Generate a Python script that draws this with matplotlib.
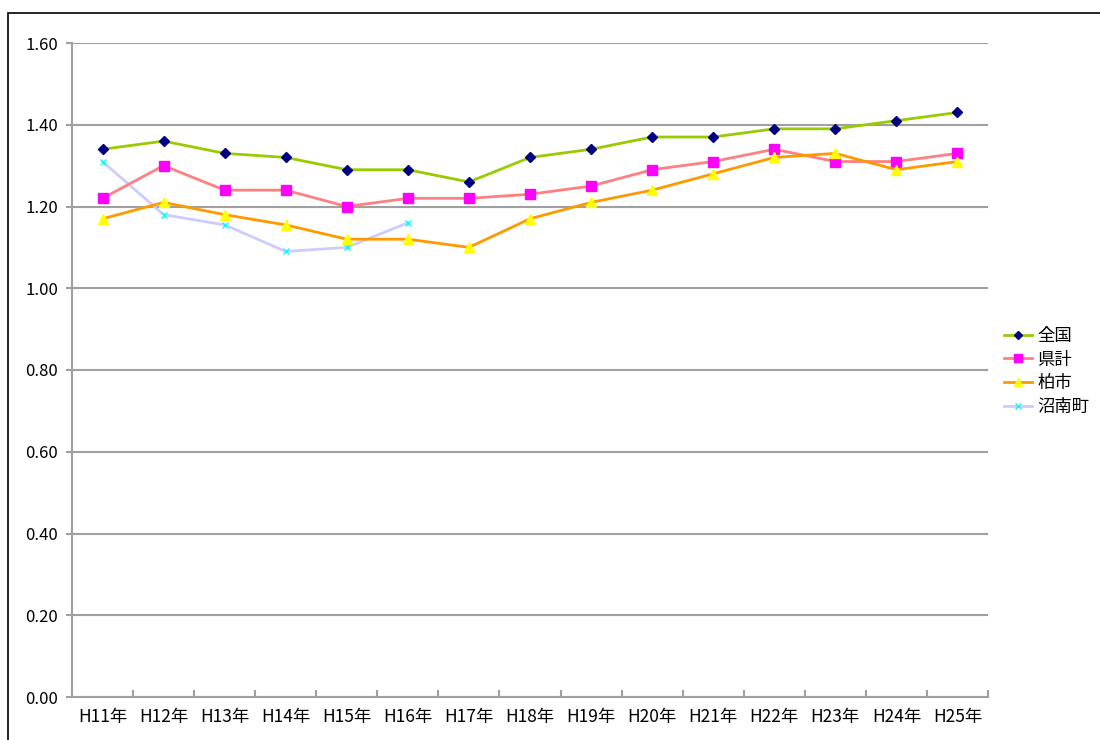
import matplotlib
matplotlib.use("Agg")
import matplotlib.pyplot as plt
from matplotlib.patches import Rectangle

plt.rcParams['font.family'] = ['Noto Sans CJK JP', 'DejaVu Sans']

categories = ["H11年", "H12年", "H13年", "H14年", "H15年", "H16年", "H17年", "H18年",
              "H19年", "H20年", "H21年", "H22年", "H23年", "H24年", "H25年"]
zenkoku = [1.34, 1.36, 1.33, 1.32, 1.29, 1.29, 1.26, 1.32, 1.34, 1.37, 1.37, 1.39, 1.39, 1.41, 1.43]
kenkei = [1.22, 1.30, 1.24, 1.24, 1.20, 1.22, 1.22, 1.23, 1.25, 1.29, 1.31, 1.34, 1.31, 1.31, 1.33]
kashiwa = [1.17, 1.21, 1.18, 1.155, 1.12, 1.12, 1.10, 1.17, 1.21, 1.24, 1.28, 1.32, 1.33, 1.29, 1.31]
shonan = [1.31, 1.18, 1.155, 1.09, 1.10, 1.16]
series_names = ["全国", "県計", "柏市", "沼南町"]
yticks = [0.0, 0.2, 0.4, 0.6, 0.8, 1.0, 1.2, 1.4, 1.6]

fig = plt.figure(figsize=(11, 7.4), dpi=100)
fig.patches.append(Rectangle((8/1100, -0.01), 1.1, (740-13)/740 + 0.01, transform=fig.transFigure,
                             fill=False, edgecolor='black', linewidth=1.2))

ax = fig.add_axes([72/1100, 43/740, (988-72)/1100, (697-43)/740])
x = [i + 0.5 for i in range(len(categories))]

ax.plot(x, zenkoku, color='#99CC00', lw=2, marker='D', ms=5, mfc='#000080', mec='#000080', label=series_names[0], zorder=4)
ax.plot(x, kenkei, color='#FF8080', lw=2, marker='s', ms=7, mfc='#FF00FF', mec='#FF00FF', label=series_names[1], zorder=3)
ax.plot(x, kashiwa, color='#FF9900', lw=2, marker='^', ms=7, mfc='#FFFF00', mec='#FFFF00', label=series_names[2], zorder=3)
ax.plot(x[:len(shonan)], shonan, color='#CCCCFF', lw=2, marker='x', ms=5, mec='#00FFFF', mew=1, label=series_names[3], zorder=2)

ax.set_xlim(0, len(categories))
ax.set_ylim(0, 1.6)
ax.set_yticks(yticks)
ax.set_yticklabels([f"{v:.2f}" for v in yticks], fontsize=12)
ax.yaxis.grid(True, color='#A0A0A0', lw=1.5)
ax.set_axisbelow(True)

ax.set_xticks(range(len(categories) + 1))
ax.set_xticklabels([])
ax.set_xticks(x, minor=True)
ax.set_xticklabels(categories, minor=True, fontsize=12.5)
ax.tick_params(axis='x', which='major', direction='in', length=5, color='#A0A0A0', width=1.5)
ax.tick_params(axis='x', which='minor', length=0, pad=8)
ax.tick_params(axis='y', direction='out', length=4, color='#A0A0A0', width=1.5, pad=6)

for s in ['top', 'right']:
    ax.spines[s].set_visible(False)
for s in ['left', 'bottom']:
    ax.spines[s].set_color('#A0A0A0')
    ax.spines[s].set_linewidth(1.5)

leg = ax.legend(loc='center left', bbox_to_anchor=(1.01, 0.498), frameon=False,
                fontsize=12.5, handlelength=1.6, handletextpad=0.3, labelspacing=0.32,
                borderaxespad=0, markerscale=0.8)

fig.savefig("out.png", dpi=100, facecolor='white')
